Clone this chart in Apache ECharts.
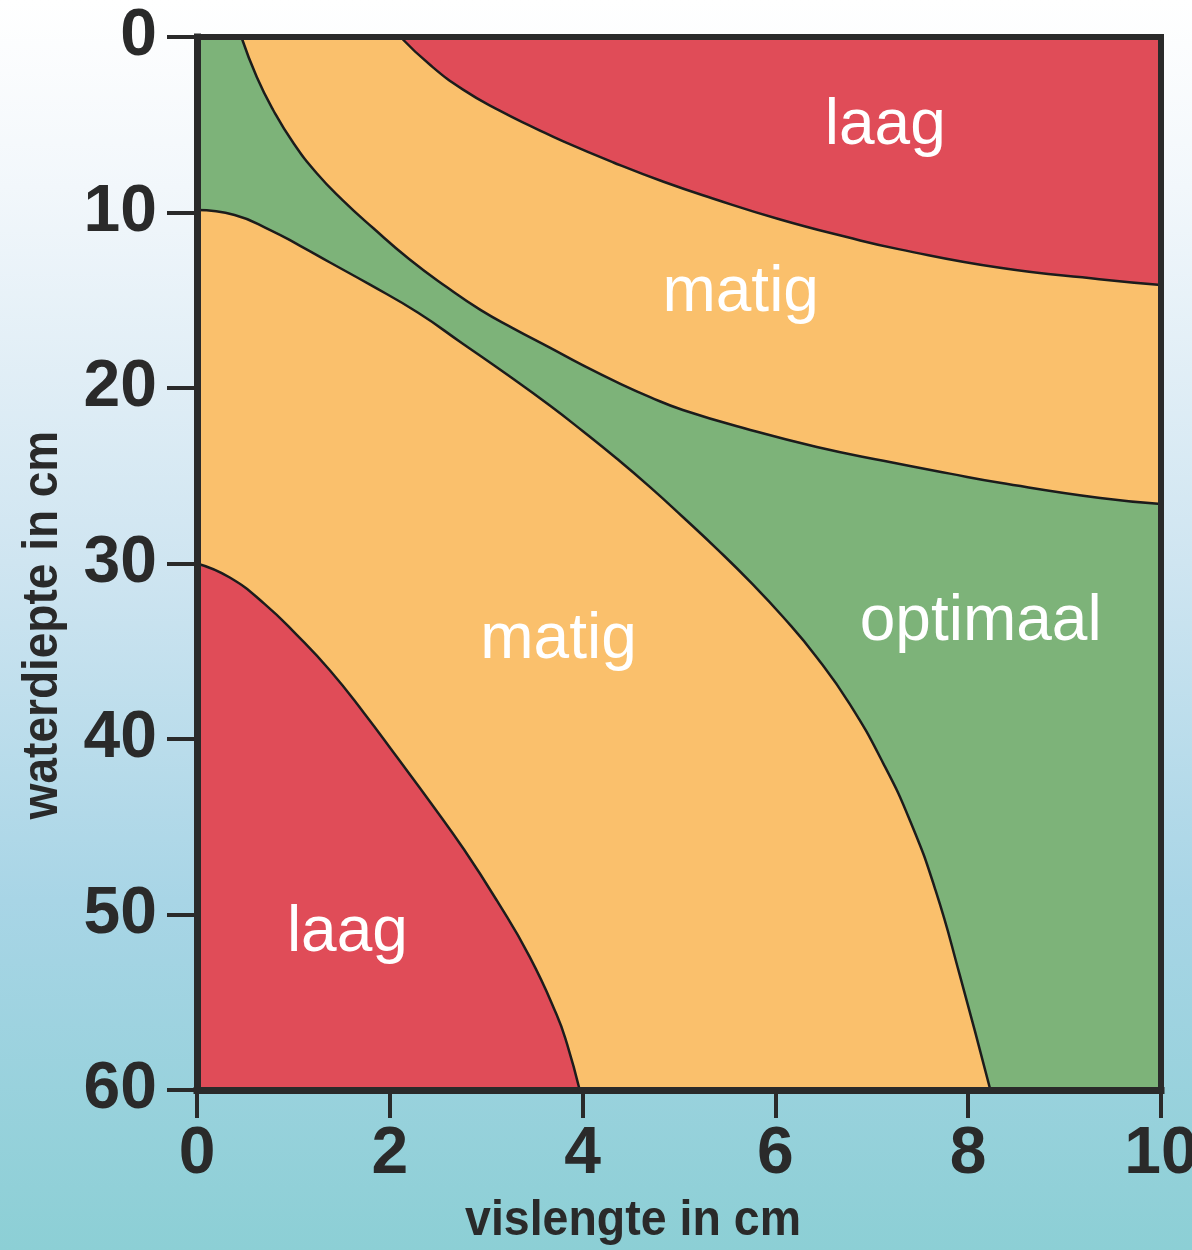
<!DOCTYPE html>
<html>
<head>
<meta charset="utf-8">
<script src="https://cdn.jsdelivr.net/npm/echarts@6/dist/echarts.min.js"></script>
<style>
html, body { margin: 0; padding: 0; background: #ffffff; }
#chart { width: 1192px; height: 1250px; }
</style>
</head>
<body>
<div id="chart"></div>
<script>
// ---------- data ----------
const xTicks = [0, 2, 4, 6, 8, 10];
const yTicks = [0, 10, 20, 30, 40, 50, 60];
const xTitle = 'vislengte in cm';
const yTitle = 'waterdiepte in cm';

// boundary: upper "laag" (red) / upper "matig"
const boundaryLaagMatigTop = [
  [2.11, 0], [2.42, 1.6], [2.76, 3.0], [3.14, 4.2], [3.51, 5.2], [3.80, 5.95],
  [4.32, 7.15], [4.84, 8.25], [5.35, 9.2], [6.05, 10.4], [6.74, 11.4],
  [7.29, 12.1], [8.33, 13.15], [9.36, 13.8], [10, 14.13]
];
// boundary: upper "matig" / "optimaal"
const boundaryMatigOptimaalTop = [
  [0.46, 0], [0.62, 2.28], [0.79, 4.16], [1.00, 6.04], [1.24, 7.75], [1.51, 9.29],
  [1.83, 10.9], [2.20, 12.65], [2.59, 14.25], [2.94, 15.55], [3.28, 16.6],
  [3.66, 17.7], [4.00, 18.7], [4.36, 19.68], [4.70, 20.52], [5.04, 21.25],
  [5.74, 22.39], [6.43, 23.36], [7.12, 24.15], [7.81, 24.88], [8.33, 25.4],
  [9.37, 26.27], [10, 26.61]
];
// boundary: "optimaal" / lower "matig"
const boundaryOptimaalMatigBottom = [
  [0, 9.86], [0.39, 10.14], [0.76, 11.0], [1.07, 11.9], [1.38, 12.85], [1.79, 14.1],
  [2.29, 15.7], [2.75, 17.45], [3.22, 19.25], [3.66, 21.0], [4.00, 22.45],
  [4.36, 24.05], [4.70, 25.65], [5.04, 27.35], [5.39, 29.15], [5.74, 31.05],
  [6.08, 33.05], [6.43, 35.35], [6.77, 38.0], [7.12, 41.4], [7.40, 44.7],
  [7.66, 48.6], [7.91, 53.4], [8.23, 60]
];
// boundary: lower "matig" / lower "laag"
const boundaryMatigLaagBottom = [
  [0, 30], [0.34, 30.8], [0.70, 32.3], [1.04, 34.1], [1.38, 36.1], [1.73, 38.5],
  [2.07, 41.0], [2.42, 43.6], [2.77, 46.3], [3.11, 49.2], [3.45, 52.4],
  [3.73, 55.7], [3.84, 57.4], [3.97, 60]
];

const regionNames = ['laag', 'matig', 'optimaal', 'matig', 'laag'];
const regionX = [7.14, 5.64, 8.13, 3.75, 1.56];
const regionY = [5.1, 14.6, 33.35, 34.4, 51.1];

// ---------- styles ----------
const RED = '#E04C58';
const ORANGE = '#FAC06C';
const GREEN = '#7DB379';
const DARK = '#2a2a2a';
const LINE = '#1c1c1c';
const BOLDFONT = '"Liberation Sans", Arial, Helvetica, sans-serif';
const REGULAR = '"Liberation Sans", Arial, Helvetica, sans-serif';

const chart = echarts.init(document.getElementById('chart'), null, { renderer: 'canvas' });

function boundarySeries(data, color, origin) {
  return {
    type: 'line',
    data: data,
    smooth: 0.5,
    symbol: 'none',
    silent: true,
    lineStyle: { color: LINE, width: 2.5 },
    areaStyle: { color: color, opacity: 1, origin: origin },
    z: 2
  };
}

const option = {
  animation: false,
  backgroundColor: {
    type: 'linear', x: 0, y: 0, x2: 0, y2: 1,
    colorStops: [
      { offset: 0, color: '#ffffff' },
      { offset: 0.15, color: '#f2f7fb' },
      { offset: 0.45, color: '#cfe5f1' },
      { offset: 0.72, color: '#a8d5e6' },
      { offset: 1, color: '#8ccfd5' }
    ]
  },
  grid: {
    left: 197, right: 31, top: 37, bottom: 160,
    show: true, backgroundColor: GREEN, borderWidth: 0,
    containLabel: false, outerBoundsMode: 'none'
  },
  xAxis: [
    {
      type: 'value', position: 'bottom',
      min: xTicks[0], max: xTicks[xTicks.length - 1], interval: xTicks[1] - xTicks[0],
      z: 10,
      axisLine: { show: true, onZero: false, lineStyle: { color: DARK, width: 7, cap: 'square' } },
      axisTick: { show: true, length: 28, lineStyle: { color: DARK, width: 4 } },
      axisLabel: { margin: 32, fontSize: 66, fontWeight: 'bold', fontFamily: BOLDFONT, color: DARK },
      splitLine: { show: false }
    },
    {
      type: 'value', position: 'top',
      min: xTicks[0], max: xTicks[xTicks.length - 1],
      z: 10,
      axisLine: { show: true, onZero: false, lineStyle: { color: DARK, width: 6, cap: 'square' } },
      axisTick: { show: false }, axisLabel: { show: false }, splitLine: { show: false }
    }
  ],
  yAxis: [
    {
      type: 'value', position: 'left', inverse: true,
      min: yTicks[0], max: yTicks[yTicks.length - 1], interval: yTicks[1] - yTicks[0],
      z: 10,
      axisLine: { show: true, onZero: false, lineStyle: { color: DARK, width: 7, cap: 'square' } },
      axisTick: { show: true, length: 30, lineStyle: { color: DARK, width: 4 } },
      axisLabel: { margin: 40, fontSize: 66, fontWeight: 'bold', fontFamily: BOLDFONT, color: DARK },
      splitLine: { show: false }
    },
    {
      type: 'value', position: 'right', inverse: true,
      min: yTicks[0], max: yTicks[yTicks.length - 1],
      z: 10,
      axisLine: { show: true, onZero: false, lineStyle: { color: DARK, width: 6, cap: 'square' } },
      axisTick: { show: false }, axisLabel: { show: false }, splitLine: { show: false }
    }
  ],
  graphic: [
    {
      type: 'text', x: 43, y: 625, rotation: Math.PI / 2, scaleX: 0.92, silent: true,
      style: { text: yTitle, fontSize: 50, fontWeight: 'bold', fontFamily: BOLDFONT, fill: DARK, align: 'center', verticalAlign: 'middle' }
    },
    {
      type: 'text', x: 633, y: 1221, scaleX: 0.93, silent: true,
      style: { text: xTitle, fontSize: 50, fontWeight: 'bold', fontFamily: BOLDFONT, fill: DARK, align: 'center', verticalAlign: 'middle' }
    }
  ],
  series: [
    boundarySeries(boundaryMatigOptimaalTop, ORANGE, 'start'),
    boundarySeries(boundaryLaagMatigTop, RED, 'start'),
    boundarySeries(boundaryOptimaalMatigBottom, ORANGE, 'end'),
    boundarySeries(boundaryMatigLaagBottom, RED, 'end'),
    {
      type: 'scatter',
      silent: true,
      symbolSize: 2,
      itemStyle: { color: 'rgba(0,0,0,0)', opacity: 1 },
      z: 5,
      data: regionNames.map((n, i) => ({ name: n, value: [regionX[i], regionY[i]] })),
      label: {
        show: true, position: 'inside', formatter: '{b}',
        color: '#ffffff', opacity: 1, fontSize: 64, fontFamily: REGULAR
      },
      labelLayout: { hideOverlap: false }
    }
  ]
};
chart.setOption(option);
</script>
</body>
</html>
